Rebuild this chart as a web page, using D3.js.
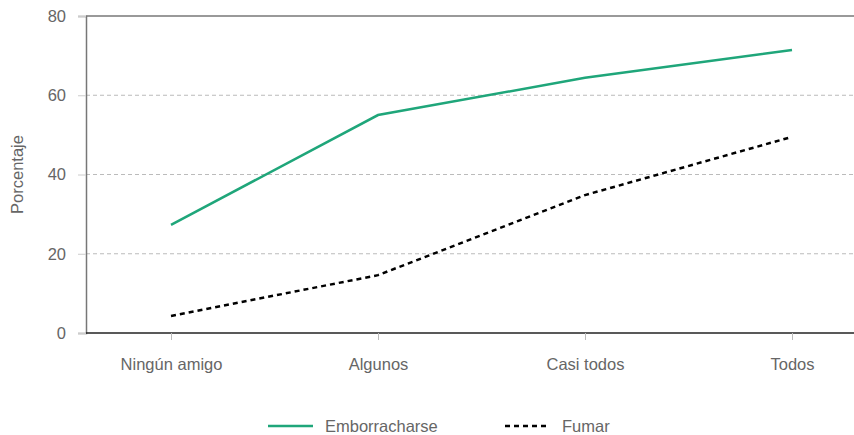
<!DOCTYPE html>
<html>
<head>
<meta charset="utf-8">
<script src="https://cdn.jsdelivr.net/npm/d3@7"></script>
<style>
  body { margin: 0; background: #fff; }
  text { font-family: "Liberation Sans", Arial, sans-serif; }
</style>
</head>
<body>
<svg width="854" height="435"></svg>
<script>
const svg = d3.select('svg');
const width = +svg.attr('width');
const height = +svg.attr('height');

const categories = ['Ningún amigo', 'Algunos', 'Casi todos', 'Todos'];
const emborracharse = [27.3, 55.0, 64.4, 71.4];
const fumar = [4.3, 14.6, 34.8, 49.5];
const yTicks = [0, 20, 40, 60, 80];

const series = [
  { name: 'Emborracharse', values: emborracharse, color: '#1fa67a', dash: null, width: 2.5 },
  { name: 'Fumar', values: fumar, color: '#000', dash: '5,4', width: 2.5 }
];

const margin = { top: 16, right: 0, bottom: 102, left: 86 };
const innerHeight = height - margin.top - margin.bottom;
const fontSize = '16.5px';

const xScale = d3.scalePoint()
  .domain(categories)
  .range([171 - margin.left, 792 - margin.left]);

const yScale = d3.scaleLinear()
  .domain([0, 80])
  .range([innerHeight, 0]);

const g = svg.append('g')
  .attr('transform', `translate(${margin.left},${margin.top})`);

// grid lines
g.selectAll('.grid').data(yTicks.filter(d => d > 0 && d < 80))
  .enter().append('line')
    .attr('x1', 0).attr('x2', width - margin.left)
    .attr('y1', d => yScale(d)).attr('y2', d => yScale(d))
    .attr('stroke', '#bbb')
    .attr('stroke-dasharray', '4,3');

// top border
g.append('line')
  .attr('x1', 0).attr('x2', width - margin.left)
  .attr('y1', 0).attr('y2', 0)
  .attr('stroke', '#777').attr('stroke-width', 1.5);

// y axis
const yAxis = g.append('g')
  .call(d3.axisLeft(yScale).tickValues(yTicks).tickSize(8).tickPadding(12));
yAxis.select('.domain').attr('stroke', '#777').attr('stroke-width', 1.5);
yAxis.selectAll('.tick line').attr('stroke', '#ccc');
yAxis.selectAll('.tick text').attr('fill', '#666').style('font-size', fontSize);

// x axis
const xAxis = g.append('g')
  .attr('transform', `translate(0,${innerHeight})`)
  .call(d3.axisBottom(xScale).tickSize(7).tickPadding(18));
xAxis.select('.domain')
  .attr('d', `M0,0H${width - margin.left}`)
  .attr('stroke', '#222').attr('stroke-width', 1.5);
xAxis.selectAll('.tick line').attr('stroke', '#bbb');
xAxis.selectAll('.tick text').attr('fill', '#666').style('font-size', fontSize);

// y label
svg.append('text')
  .attr('transform', `translate(23,${margin.top + innerHeight / 2}) rotate(-90)`)
  .attr('text-anchor', 'middle')
  .attr('fill', '#666')
  .style('font-size', fontSize)
  .text('Porcentaje');

// lines
const line = d3.line()
  .x((d, i) => xScale(categories[i]))
  .y(d => yScale(d));

g.selectAll('.series').data(series)
  .enter().append('path')
    .attr('d', d => line(d.values))
    .attr('fill', 'none')
    .attr('stroke', d => d.color)
    .attr('stroke-width', d => d.width)
    .attr('stroke-dasharray', d => d.dash);

// legend
const legendX = [268, 505];
const legend = svg.selectAll('.legend').data(series)
  .enter().append('g')
    .attr('transform', (d, i) => `translate(${legendX[i]},426)`);
legend.append('line')
  .attr('x1', 0).attr('x2', 45)
  .attr('stroke', d => d.color)
  .attr('stroke-width', d => d.width)
  .attr('stroke-dasharray', d => d.dash);
legend.append('text')
  .attr('x', 57).attr('dy', '0.35em')
  .attr('fill', '#666')
  .style('font-size', fontSize)
  .text(d => d.name);
</script>
</body>
</html>
